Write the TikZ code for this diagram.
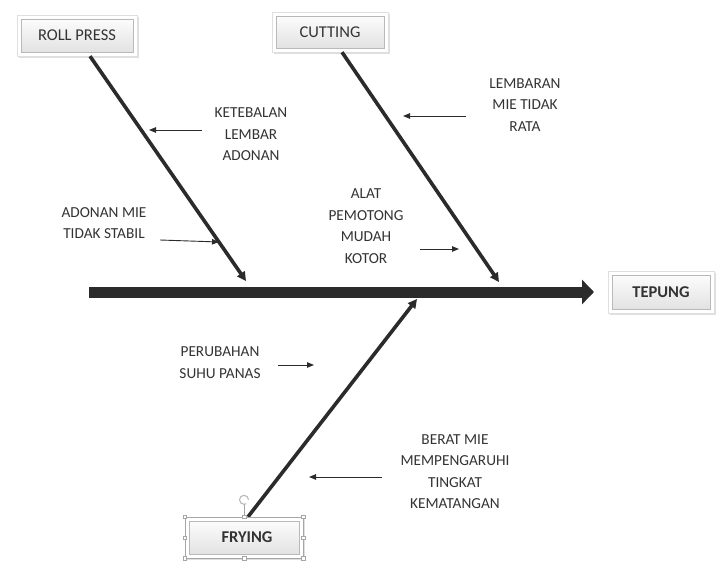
\documentclass[tikz,border=0pt]{standalone}
\usepackage{fontspec}
\setmainfont{Carlito}
\usetikzlibrary{arrows.meta,shadows}
\definecolor{ink}{HTML}{2B2B2B}
\definecolor{txt}{HTML}{333333}
\tikzset{
  button/.style={fill=white, draw=gray!25, line width=0.4pt,
    drop shadow={shadow xshift=1.5pt, shadow yshift=-2pt, opacity=0.25, fill=gray},
    minimum height=#1, inner sep=0pt, text=txt, font=\fontsize{16.5}{18}\selectfont,
    path picture={
      \shade[top color=white, bottom color=gray!25, draw=gray!55, line width=0.5pt]
        ([shift={(4pt,-4pt)}]path picture bounding box.north west)
        rectangle ([shift={(-4pt,4pt)}]path picture bounding box.south east);
    }},
  lbl/.style={align=center, inner sep=0pt, text=txt,
    font=\fontsize{15.3}{21.5}\selectfont},
  bone/.style={draw=ink, line width=3.6pt, -{Triangle[length=9pt,width=9pt]}},
  spine/.style={draw=ink, line width=11pt, -{Triangle[length=12pt,width=24pt]}},
  small/.style={draw=ink, line width=0.9pt, -{Triangle[length=7pt,width=5.5pt]}},
  handle/.style={draw=gray!70, fill=white, line width=0.5pt, minimum size=3.5pt, inner sep=0pt},
}
\begin{document}
\begin{tikzpicture}[x=1pt,y=-1pt]
\useasboundingbox (0,0) rectangle (717,561);

% boxes
\node[button=41pt, minimum width=120pt] (roll) at (77,35.5) {ROLL PRESS};
\node[button=40pt, minimum width=116pt] (cut) at (330,32) {CUTTING};
\node[button=42pt, minimum width=106pt, font=\fontsize{16.5}{18}\selectfont\bfseries] (tep) at (661,292) {TEPUNG};
\node[button=41pt, minimum width=118pt, font=\fontsize{16.5}{18}\selectfont\bfseries] (fry) at (244,537.5) {\hspace*{6pt}FRYING};

% spine
\coordinate (s0) at (89,292);
\coordinate (s1) at (594,292);
\draw[spine] (s0) -- (s1);

% bones
\coordinate (rpEnd) at (246,281);
\coordinate (ctEnd) at (499,282);
\coordinate (frEnd) at (417,299);
\draw[bone] ([xshift=13pt]roll.south) -- (rpEnd);
\draw[bone] ([xshift=12pt]cut.south) -- (ctEnd);
\draw[bone] ([xshift=4pt]fry.north) -- (frEnd);

% labels
\node[lbl] (k) at (251,134.5) {KETEBALAN\\LEMBAR\\ADONAN};
\node[lbl] (l) at (525,105) {LEMBARAN\\MIE TIDAK\\RATA};
\node[lbl] (a) at (104,223) {ADONAN MIE\\TIDAK STABIL};
\node[lbl] (p) at (366,226) {ALAT\\PEMOTONG\\MUDAH\\KOTOR};
\node[lbl] (s) at (220,362.5) {PERUBAHAN\\SUHU PANAS};
\node[lbl] (b) at (455,471.5) {BERAT MIE\\MEMPENGARUHI\\TINGKAT\\KEMATANGAN};

% small arrows
\coordinate (k0) at (202,130); \coordinate (k1) at (149,130);
\coordinate (l0) at (466,116); \coordinate (l1) at (403,116);
\coordinate (a0) at (160,240); \coordinate (a1) at (219,242);
\coordinate (p0) at (420,249); \coordinate (p1) at (459,249);
\coordinate (s0b) at (278,365); \coordinate (s1b) at (314,365);
\coordinate (b0) at (382,477); \coordinate (b1) at (309,477);
\draw[small] (k0) -- (k1);
\draw[small] (l0) -- (l1);
\draw[small] (a0) -- (a1);
\draw[small] (p0) -- (p1);
\draw[small] (s0b) -- (s1b);
\draw[small] (b0) -- (b1);

% selection handles of FRYING
\draw[gray!70, line width=0.5pt] (fry.north west) rectangle (fry.south east);
\coordinate (rot) at ([yshift=17pt]fry.north);
\draw[gray!70, line width=0.5pt] (fry.north) -- ([yshift=12.5pt]fry.north);
\draw[gray!55, line width=1.1pt] ([shift={(4.5pt,0pt)}]rot) arc[start angle=0, end angle=300, radius=4.5pt];
\foreach \a in {north west,north,north east,east,south east,south,south west,west}
  \node[handle] at (fry.\a) {};
\end{tikzpicture}
\end{document}
